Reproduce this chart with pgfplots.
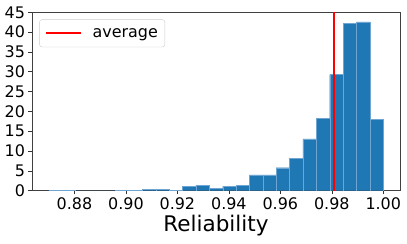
\documentclass[border=0pt]{standalone}
\usepackage{pgfplots}
\pgfplotsset{compat=1.18}
\usepackage{fontspec}
\setmainfont{DejaVu Sans}
\definecolor{mplblue}{HTML}{1F77B4}
\definecolor{mpledge}{RGB}{110,165,210}
\begin{document}
\begin{tikzpicture}
\begin{axis}[
  at={(0,0)}, anchor=south west,
  scale only axis,
  width=368bp, height=178.4bp,
  xmin=0.8635, xmax=1.0065,
  ymin=0, ymax=45,
  xtick={0.88,0.90,0.92,0.94,0.96,0.98,1.00},
  ytick={0,5,10,15,20,25,30,35,40,45},
  xticklabel style={/pgf/number format/.cd,fixed,fixed zerofill,precision=2},
  /pgf/number format/assume math mode=true,
  tick label style={font=\fontsize{16}{19}\selectfont},
  xlabel={Reliability},
  xlabel style={font=\fontsize{21.6}{26}\selectfont, yshift=1bp},
  tick align=outside,
  tick pos=left,
  major tick length=3.5bp,
  every tick/.style={black!80, line width=0.6bp},
  axis line style={black!75, line width=0.6bp},
  legend style={at={(0.02,0.96)}, anchor=north west,
    draw=black!20, rounded corners=2.5bp,
    font=\fontsize{16}{19}\selectfont,
    inner xsep=5bp, inner ysep=6.5bp,
    /tikz/every odd column/.append style={column sep=9bp}},
  legend image code/.code={\draw[#1] (0bp,0bp) -- (35bp,0bp);},
]
\addplot[ybar interval, fill=mplblue, draw=mpledge, line width=0.3bp, forget plot] coordinates {
(0.8700,0.15) (0.8752,0.15) (0.8804,0) (0.8856,0) (0.8908,0)
(0.8960,0.15) (0.9012,0.1) (0.9064,0.3) (0.9116,0.3) (0.9168,0.15)
(0.9220,1.1) (0.9272,1.35) (0.9324,0.6) (0.9376,1.1) (0.9428,1.3)
(0.9480,4.0) (0.9532,4.0) (0.9584,5.8) (0.9636,8.1) (0.9688,13.1)
(0.9740,18.3) (0.9792,29.3) (0.9844,42.2) (0.9896,42.6) (0.9948,18.0)
(1.0000,18.0)
};
\addplot[red, line width=2bp] coordinates {(0.9807,0) (0.9807,45)};
\addlegendentry{average}
\end{axis}
\path[use as bounding box] (-32bp,-53.3bp) rectangle (375bp,190.7bp);
\end{tikzpicture}
\end{document}
